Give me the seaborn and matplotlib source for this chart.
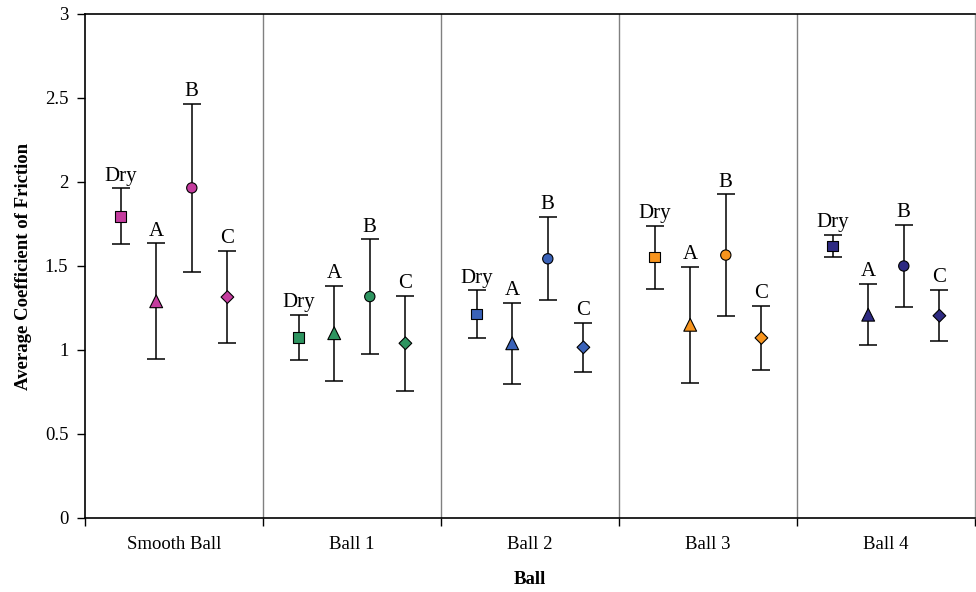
import matplotlib
matplotlib.use("Agg")
import matplotlib.pyplot as plt
import seaborn as sns
import pandas as pd
import numpy as np

balls = ["Smooth Ball", "Ball 1", "Ball 2", "Ball 3", "Ball 4"]
conditions = ["Dry", "A", "B", "C"]

smooth_mean = [1.795, 1.29, 1.965, 1.315]
smooth_err = [0.167, 0.345, 0.50, 0.275]
ball1_mean = [1.075, 1.10, 1.318, 1.040]
ball1_err = [0.135, 0.283, 0.340, 0.282]
ball2_mean = [1.214, 1.040, 1.543, 1.016]
ball2_err = [0.141, 0.241, 0.248, 0.147]
ball3_mean = [1.552, 1.150, 1.565, 1.072]
ball3_err = [0.187, 0.344, 0.361, 0.190]
ball4_mean = [1.618, 1.210, 1.500, 1.204]
ball4_err = [0.067, 0.182, 0.243, 0.152]

ball_colors = ["#C43C9E", "#2E9460", "#3A62B8", "#F7941D", "#2E2A82"]
cond_markers = ["s", "^", "o", "D"]
cond_sizes = [55, 85, 55, 42]

means = [smooth_mean, ball1_mean, ball2_mean, ball3_mean, ball4_mean]
errs = [smooth_err, ball1_err, ball2_err, ball3_err, ball4_err]

rows = []
for gi, b in enumerate(balls):
    for ci, c in enumerate(conditions):
        rows.append({"ball": b, "cond": c, "pos": gi * 5 + ci + 1,
                     "mean": means[gi][ci], "err": errs[gi][ci]})
df = pd.DataFrame(rows)

sns.set_theme(style="white")
plt.rcParams["font.family"] = ["Liberation Serif", "DejaVu Serif"]

fig = plt.figure(figsize=(9.76, 5.92), dpi=100)
ax = fig.add_axes([85 / 976, 1 - 518 / 592, 890 / 976, (518 - 14) / 592])

ax.errorbar(df["pos"], df["mean"], yerr=df["err"], fmt="none", ecolor="black",
            elinewidth=1.1, capsize=6.5, capthick=1.1, zorder=2)

sns.scatterplot(data=df, x="pos", y="mean", hue="ball", style="cond", size="cond",
                palette=dict(zip(balls, ball_colors)),
                markers=dict(zip(conditions, cond_markers)),
                sizes=dict(zip(conditions, cond_sizes)),
                edgecolor="black", linewidth=0.8, legend=False,
                ax=ax, zorder=3)

for _, r in df.iterrows():
    ax.annotate(r["cond"], (r["pos"], r["mean"] + r["err"]), xytext=(0, 2),
                textcoords="offset points", ha="center", va="bottom",
                fontsize=15, color="black")

for xv in [5, 10, 15, 20]:
    ax.axvline(xv, color="#808080", lw=1.0, zorder=1)

ax.set_xlim(0, 25)
ax.set_ylim(0, 3)
ax.set_yticks(np.arange(0, 3.01, 0.5))
ax.set_yticklabels(["0", "0.5", "1", "1.5", "2", "2.5", "3"])
ax.set_xticks([0, 5, 10, 15, 20, 25])
ax.set_xticklabels([])
ax.set_xticks([2.5, 7.5, 12.5, 17.5, 22.5], minor=True)
ax.set_xticklabels(balls, minor=True)
ax.tick_params(axis="x", which="major", direction="out", length=6, width=1, color="black", bottom=True)
ax.tick_params(axis="x", which="minor", length=0, pad=13, labelsize=13.5, labelcolor="black")
ax.tick_params(axis="y", direction="out", length=6, width=1, color="black", pad=6, labelsize=13.5,
               left=True, labelcolor="black")

for s in ["left", "bottom", "top"]:
    ax.spines[s].set_color("black")
    ax.spines[s].set_linewidth(1.2)
ax.spines["right"].set_color("#A0A0A0")
ax.spines["right"].set_linewidth(1.0)

ax.set_xlabel("Ball", fontsize=13.5, fontweight="bold", labelpad=13, color="black")
ax.set_ylabel("Average Coefficient of Friction", fontsize=13.5, fontweight="bold", labelpad=9, color="black")
ax.grid(False)

fig.savefig("out.png", dpi=100)
